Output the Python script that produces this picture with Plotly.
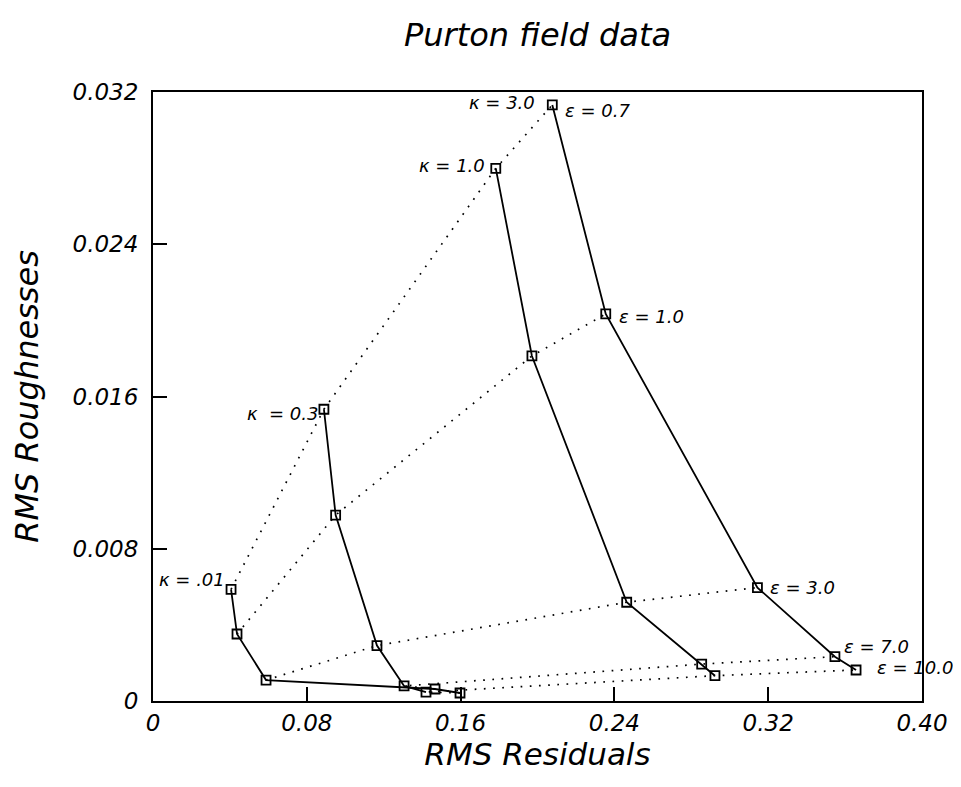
import plotly.graph_objects as go

# Data: RMS residuals (x) and RMS roughnesses (y) for each kappa, at eps = 0.7, 1.0, 3.0, 7.0, 10.0
kappa_labels = ["κ = .01", "κ  = 0.3", "κ = 1.0", "κ = 3.0"]
eps_labels = ["ε = 0.7", "ε = 1.0", "ε = 3.0", "ε = 7.0", "ε = 10.0"]

res_k001 = [0.0406, 0.0437, 0.0588, 0.1467, 0.1597]
rough_k001 = [0.00587, 0.00352, 0.00110, 0.00063, 0.00042]

res_k03 = [0.0889, 0.0950, 0.1165, 0.1306, 0.1420]
rough_k03 = [0.01533, 0.00977, 0.00291, 0.00079, 0.00047]

res_k1 = [0.1783, 0.1971, 0.2464, 0.2854, 0.2923]
rough_k1 = [0.02799, 0.01813, 0.00519, 0.00194, 0.00133]

res_k3 = [0.2077, 0.2355, 0.3144, 0.3547, 0.3657]
rough_k3 = [0.03132, 0.02034, 0.00596, 0.00233, 0.00163]

x_tickvals = [0, 0.08, 0.16, 0.24, 0.32, 0.40]
x_ticktext = ["0", "0.08", "0.16", "0.24", "0.32", "0.40"]
y_tickvals = [0, 0.008, 0.016, 0.024, 0.032]
y_ticktext = ["0", "0.008", "0.016", "0.024", "0.032"]

title_text = "Purton field data"
x_title = "RMS Residuals"
y_title = "RMS Roughnesses"

res_all = [res_k001, res_k03, res_k1, res_k3]
rough_all = [rough_k001, rough_k03, rough_k1, rough_k3]

FONT = "DejaVu Sans"
LBL = 18
fig = go.Figure()

# dotted lines joining equal eps across kappa
for j in range(len(eps_labels)):
    fig.add_trace(go.Scatter(
        x=[r[j] for r in res_all], y=[g[j] for g in rough_all],
        mode="lines", line=dict(color="black", width=1.7, dash="1.7px,7.5px"),
        hoverinfo="skip", showlegend=False))

# solid curves per kappa
for r, g in zip(res_all, rough_all):
    fig.add_trace(go.Scatter(
        x=r, y=g, mode="lines+markers",
        line=dict(color="black", width=1.8),
        marker=dict(symbol="square-open", size=9, color="black", line=dict(width=1.8)),
        showlegend=False))

# kappa labels (at eps=0.7 point of each curve)
k_shift = [(-4, 10), (-4, -4), (-9, 3), (-15, 2)]
for lab, r, g, (dx, dy) in zip(kappa_labels, res_all, rough_all, k_shift):
    fig.add_annotation(x=r[0], y=g[0], text=lab, showarrow=False,
                       xanchor="right", yanchor="middle", xshift=dx, yshift=dy,
                       font=dict(family=FONT, size=LBL, color="black", style="italic"))

# eps labels (at kappa=3.0 curve)
e_shift = [(11, -6), (11, -3), (11, 0), (7, 10), (19, 2)]
for lab, x0, y0, (dx, dy) in zip(eps_labels, res_k3, rough_k3, e_shift):
    fig.add_annotation(x=x0, y=y0, text=lab, showarrow=False,
                       xanchor="left", yanchor="middle", xshift=dx, yshift=dy,
                       font=dict(family=FONT, size=LBL, color="black", style="italic"))

axis_common = dict(
    showgrid=False, zeroline=False, showline=True, linecolor="black", linewidth=2,
    mirror=True, ticks="inside", ticklen=14, tickwidth=1.5, tickcolor="black",
    automargin=False,
    tickfont=dict(family=FONT, size=23, color="black", style="italic"),
)

# page body has an 8px default margin; figure sized to fit inside the 961x787 window
fig.update_layout(
    width=953, height=771,
    paper_bgcolor="white", plot_bgcolor="white",
    margin=dict(l=145, r=39, t=84, b=78),
    title=dict(text=title_text, x=0.5, xref="paper", xanchor="center",
               y=(771 - 27) / 771, yanchor="middle",
               font=dict(family=FONT, size=32, color="black", style="italic")),
    xaxis=dict(range=[0, 0.40], tickvals=x_tickvals, ticktext=x_ticktext,
               title=dict(text=x_title, standoff=5,
                          font=dict(family=FONT, size=31, color="black", style="italic")),
               **axis_common),
    yaxis=dict(range=[0, 0.032], tickvals=y_tickvals, ticktext=y_ticktext,
               ticklabelstandoff=8,
               title=dict(text=y_title, standoff=33,
                          font=dict(family=FONT, size=32, color="black", style="italic")),
               **axis_common),
)

fig.write_html("out.html")
